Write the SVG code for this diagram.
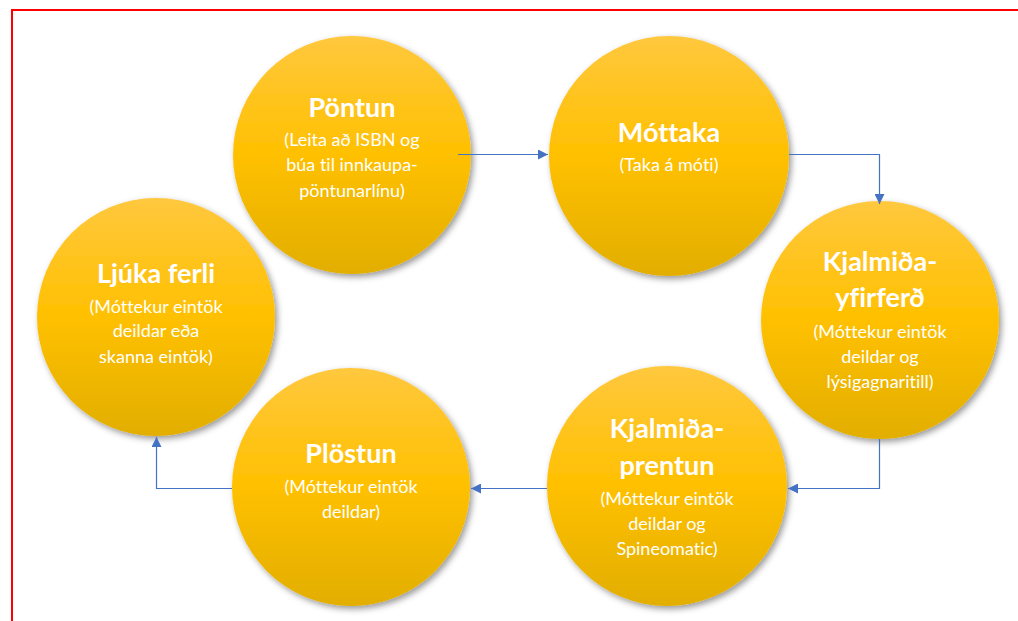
<svg xmlns="http://www.w3.org/2000/svg" width="1018" height="621" viewBox="0 0 1018 621">
<style>
.t{font-family:Lato,"Liberation Sans",sans-serif;font-weight:bold;font-size:27px;fill:#fff;text-anchor:middle;font-variant-ligatures:none}
.s{font-family:Lato,"Liberation Sans",sans-serif;font-size:18px;fill:#fff;text-anchor:middle;font-variant-ligatures:none}
.c{fill:url(#g);filter:url(#sh)}
.e{fill:none;stroke:#4472C4;stroke-width:1.2}
</style>
<defs>
<linearGradient id="g" x1="0" y1="0" x2="0" y2="1">
<stop offset="0" stop-color="#FFC83E"/>
<stop offset="0.5" stop-color="#FFC000"/>
<stop offset="1" stop-color="#E2AE00"/>
</linearGradient>
<filter id="sh" x="-20%" y="-20%" width="140%" height="140%">
<feDropShadow dx="2.5" dy="3" stdDeviation="3" flood-color="#000" flood-opacity="0.4"/>
</filter>
<marker id="a" viewBox="0 0 10 10" refX="10" refY="5" markerWidth="10" markerHeight="10" markerUnits="userSpaceOnUse" orient="auto">
<path d="M0,0 L10,5 L0,10 z" fill="#4472C4"/>
</marker>
</defs>
<rect width="1018" height="621" fill="#fff"/>
<path d="M12,621 V10 H1018" fill="none" stroke="#FF0000" stroke-width="2"/>

<g id="pontun">
<circle class="c" cx="352" cy="155" r="119"/>
<text class="t" x="352" y="117">Pöntun</text>
<text class="s" x="352" y="146">(Leita að ISBN og</text>
<text class="s" x="352" y="171">búa til innkaupa-</text>
<text class="s" x="352" y="197">pöntunarlínu)</text>
</g>

<g id="mottaka">
<circle class="c" cx="669" cy="156" r="120"/>
<text class="t" x="669" y="142">Móttaka</text>
<text class="s" x="669" y="171">(Taka á móti)</text>
</g>

<g id="kjalmida-yfirferd">
<circle class="c" cx="880" cy="320" r="119"/>
<text class="t" x="880" y="271">Kjalmiða-</text>
<text class="t" x="880" y="307">yfirferð</text>
<text class="s" x="880" y="338">(Móttekur eintök</text>
<text class="s" x="880" y="363">deildar og</text>
<text class="s" x="880" y="388">lýsigagnaritill)</text>
</g>

<g id="kjalmida-prentun">
<circle class="c" cx="667" cy="486" r="120"/>
<text class="t" x="667" y="438">Kjalmiða-</text>
<text class="t" x="667" y="475">prentun</text>
<text class="s" x="667" y="505">(Móttekur eintök</text>
<text class="s" x="667" y="530">deildar og</text>
<text class="s" x="667" y="555">Spineomatic)</text>
</g>

<g id="plostun">
<circle class="c" cx="351" cy="487" r="119"/>
<text class="t" x="351" y="463">Plöstun</text>
<text class="s" x="351" y="493">(Móttekur eintök</text>
<text class="s" x="351" y="518">deildar)</text>
</g>

<g id="ljuka-ferli">
<circle class="c" cx="156" cy="317" r="119"/>
<text class="t" x="156" y="283">Ljúka ferli</text>
<text class="s" x="156" y="313">(Móttekur eintök</text>
<text class="s" x="156" y="337">deildar eða</text>
<text class="s" x="156" y="363">skanna eintök)</text>
</g>

<g id="connectors">
<path class="e" d="M458,154.5 H548" marker-end="url(#a)"/>
<path class="e" d="M789,154.5 H879.5 V204" marker-end="url(#a)"/>
<path class="e" d="M879.5,439 V488.5 H788" marker-end="url(#a)"/>
<path class="e" d="M547,488.5 H471" marker-end="url(#a)"/>
<path class="e" d="M232,488.5 H156.5 V437" marker-end="url(#a)"/>
</g>
</svg>
